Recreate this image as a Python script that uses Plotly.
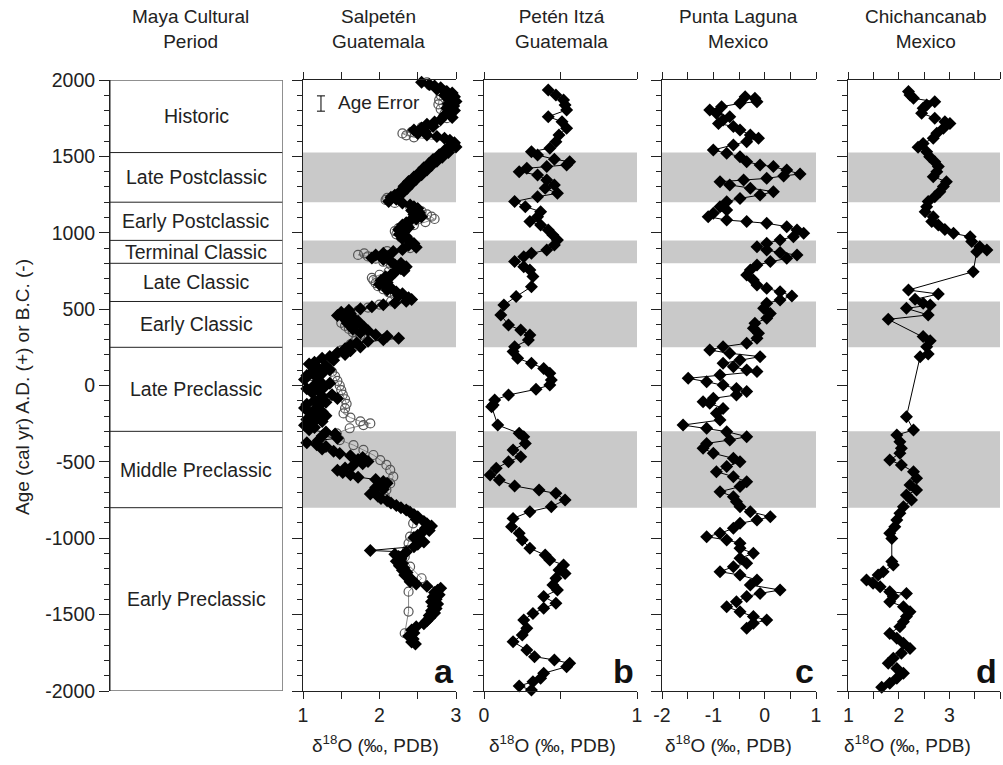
import plotly.graph_objects as go

# ---------------- data ----------------
period_names = ["Historic", "Late Postclassic", "Early Postclassic", "Terminal Classic",
                "Late Classic", "Early Classic", "Late Preclassic", "Middle Preclassic",
                "Early Preclassic"]
period_tops = [2000, 1525, 1200, 950, 800, 550, 250, -300, -800]
period_bottoms = [1525, 1200, 950, 800, 550, 250, -300, -800, -2000]
shaded_periods = ["Late Postclassic", "Terminal Classic", "Early Classic", "Middle Preclassic"]

age_ticks = [2000, 1500, 1000, 500, 0, -500, -1000, -1500, -2000]
age_tick_labels = ["2000", "1500", "1000", "500", "0", "-500", "-1000", "-1500", "-2000"]

site_names = ["Salpetén<br>Guatemala", "Petén Itzá<br>Guatemala",
              "Punta Laguna<br>Mexico", "Chichancanab<br>Mexico"]
panel_letters = ["a", "b", "c", "d"]
x_ranges = [[1, 3], [0, 1], [-2, 1], [1, 4]]
x_tickvals = [[1, 1.5, 2, 2.5, 3], [0, 0.5, 1], [-2, -1.5, -1, -0.5, 0, 0.5, 1],
              [1, 1.5, 2, 2.5, 3, 3.5, 4]]
x_ticktext = [["1", "", "2", "", "3"], ["0", "", "1"], ["-2", "", "-1", "", "0", "", "1"],
              ["1", "", "2", "", "3", "", "4"]]

# Salpetén (a): filled diamonds
salpeten_fill_age = [
    1985, 1970, 1960, 1950, 1940, 1925, 1915, 1900, 1890, 1875, 1860, 1845, 1830, 1815,
    1800, 1785, 1770, 1755, 1740, 1725, 1710, 1695, 1685, 1672, 1662, 1650, 1640, 1630,
    1618, 1605, 1590, 1575, 1562, 1550, 1538, 1525, 1510, 1495, 1480, 1468, 1455, 1440,
    1425, 1410, 1395, 1380, 1365, 1350, 1335, 1320, 1305, 1290, 1275, 1260, 1245, 1232,
    1220, 1205, 1195, 1182, 1170, 1158, 1145, 1132, 1120, 1105, 1090, 1078, 1065, 1050,
    1035, 1020, 1005, 990, 975, 960, 945, 930, 918, 905, 890, 878, 865, 855, 845, 835,
    825, 812, 800, 790, 778, 765, 752, 740, 725, 712, 700, 688, 675, 662, 650, 638, 625,
    612, 600, 588, 575, 563, 552, 540, 528, 515, 503, 492, 480, 470, 458, 445, 432, 420,
    408, 395, 382, 370, 358, 345, 333, 322, 310, 300, 290, 278, 265, 252, 240, 228, 215,
    203, 190, 178, 165, 152, 140, 128, 115, 103, 90, 78, 65, 52, 40, 28, 15, 3, -10, -22,
    -35, -48, -60, -72, -85, -98, -110, -122, -135, -148, -160, -172, -185, -198, -210,
    -222, -235, -248, -260, -275, -290, -305, -318, -330, -345, -360, -375, -388, -400,
    -415, -430, -445, -460, -472, -485, -498, -512, -525, -540, -555, -570, -585, -600,
    -615, -628, -640, -655, -668, -680, -695, -710, -725, -740, -755, -770, -785, -800,
    -815, -830, -845, -860, -875, -890, -905, -920, -935, -950, -965, -980, -995, -1010,
    -1025, -1040, -1055, -1080, -1090, -1105, -1120, -1135, -1150, -1165, -1180, -1195,
    -1210, -1225, -1240, -1255, -1270, -1285, -1300, -1315, -1328, -1340, -1355, -1370,
    -1385, -1400, -1415, -1430, -1445, -1460, -1475, -1490, -1505, -1520, -1540, -1560,
    -1580, -1600, -1620, -1640, -1660, -1680, -1693]
salpeten_fill_d18o = [
    2.55, 2.65, 2.72, 2.80, 2.75, 2.88, 2.95, 2.85, 2.98, 2.92, 3.00, 2.90, 2.97, 2.88,
    2.98, 2.92, 2.85, 2.95, 2.80, 2.72, 2.62, 2.70, 2.55, 2.45, 2.60, 2.50, 2.62, 2.75,
    2.85, 2.92, 2.98, 2.93, 3.00, 2.92, 2.85, 2.90, 2.78, 2.82, 2.70, 2.75, 2.65, 2.68,
    2.58, 2.62, 2.52, 2.55, 2.45, 2.48, 2.38, 2.42, 2.32, 2.36, 2.28, 2.30, 2.20, 2.15,
    2.22, 2.12, 2.30, 2.40, 2.45, 2.50, 2.42, 2.52, 2.45, 2.55, 2.48, 2.40, 2.35, 2.30,
    2.38, 2.25, 2.32, 2.26, 2.35, 2.30, 2.40, 2.45, 2.38, 2.48, 2.30, 2.18, 2.05, 1.95,
    2.10, 1.90, 2.05, 2.15, 2.28, 2.20, 2.35, 2.28, 2.32, 2.20, 2.15, 2.08, 2.12, 2.02,
    2.10, 2.00, 2.08, 2.15, 2.10, 2.22, 2.30, 2.25, 2.38, 2.42, 2.35, 2.20, 2.05, 1.90,
    1.75, 1.60, 1.50, 1.62, 1.45, 1.65, 1.55, 1.72, 1.58, 1.68, 1.80, 1.65, 1.85, 1.75,
    1.95, 2.10, 2.25, 2.05, 1.85, 1.70, 1.62, 1.75, 1.55, 1.62, 1.45, 1.55, 1.35, 1.25,
    1.40, 1.15, 1.08, 1.30, 1.20, 1.35, 1.12, 1.25, 1.05, 1.18, 1.02, 1.22, 1.35, 1.15,
    1.28, 1.05, 1.20, 1.12, 1.38, 1.25, 1.45, 1.15, 1.30, 1.05, 1.20, 1.02, 1.15, 1.25,
    1.10, 1.30, 1.18, 1.05, 1.25, 1.12, 1.02, 1.15, 1.08, 1.30, 1.42, 1.25, 1.45, 1.20,
    1.05, 1.18, 1.30, 1.25, 1.40, 1.48, 1.62, 1.78, 1.72, 1.85, 1.78, 1.65, 1.55, 1.45,
    1.52, 1.62, 1.72, 1.95, 2.05, 2.10, 2.02, 1.95, 2.05, 1.92, 1.88, 1.98, 2.02, 2.10,
    2.15, 2.22, 2.28, 2.35, 2.40, 2.45, 2.50, 2.48, 2.58, 2.62, 2.68, 2.60, 2.65, 2.55,
    2.50, 2.45, 2.52, 2.58, 2.50, 2.45, 1.88, 2.35, 2.20, 2.25, 2.28, 2.22, 2.30, 2.26,
    2.32, 2.30, 2.36, 2.33, 2.38, 2.42, 2.40, 2.48, 2.62, 2.80, 2.76, 2.72, 2.78, 2.70,
    2.74, 2.68, 2.76, 2.70, 2.74, 2.68, 2.72, 2.65, 2.66, 2.62, 2.58, 2.48, 2.42, 2.45,
    2.38, 2.44, 2.42, 2.47]

# Salpetén (a): open circles
salpeten_open_age = [
    1985, 1965, 1930, 1900, 1870, 1840, 1810, 1780, 1750, 1720, 1690, 1660, 1650, 1638,
    1625, 1600, 1585, 1570, 1550, 1520, 1490, 1460, 1430, 1400, 1370, 1340, 1310, 1280,
    1250, 1228, 1215, 1195, 1170, 1140, 1120, 1105, 1090, 1070, 1050, 1030, 1010, 990,
    970, 950, 925, 900, 880, 865, 855, 845, 830, 810, 790, 770, 745, 725, 705, 690, 670,
    650, 630, 610, 590, 570, 550, 530, 510, 490, 470, 450, 430, 410, 390, 370, 350, 330,
    310, 290, 270, 250, 230, 210, 190, 170, 150, 120, 90, 60, 30, 0, -30, -60, -90, -120,
    -150, -183, -210, -235, -248, -259, -280, -313, -357, -390, -422, -455, -488, -520,
    -553, -597, -641, -684, -728, -815, -902, -989, -1033, -1077, -1121, -1186, -1262,
    -1350, -1480, -1622]
salpeten_open_d18o = [
    2.62, 2.66, 2.85, 2.80, 2.78, 2.77, 2.80, 2.85, 2.88, 2.75, 2.55, 2.42, 2.30, 2.35,
    2.45, 2.90, 2.95, 2.99, 2.95, 2.82, 2.75, 2.68, 2.60, 2.55, 2.48, 2.40, 2.35, 2.30,
    2.22, 2.10, 2.08, 2.20, 2.40, 2.55, 2.62, 2.68, 2.72, 2.60, 2.45, 2.25, 2.20, 2.22,
    2.28, 2.35, 2.42, 2.40, 2.10, 1.80, 1.72, 1.85, 1.95, 2.05, 2.15, 2.22, 2.12, 2.00,
    1.90, 1.92, 1.95, 1.98, 2.05, 2.12, 2.20, 2.28, 2.15, 2.00, 1.85, 1.72, 1.62, 1.55,
    1.60, 1.50, 1.55, 1.60, 1.65, 1.75, 1.70, 1.68, 1.62, 1.58, 1.50, 1.45, 1.40, 1.35,
    1.30, 1.32, 1.38, 1.42, 1.45, 1.48, 1.50, 1.52, 1.55, 1.57, 1.55, 1.53, 1.62, 1.75,
    1.88, 1.79, 1.61, 1.44, 1.48, 1.66, 1.79, 1.92, 2.01, 2.09, 2.14, 2.18, 2.14, 2.09,
    2.07, 2.36, 2.44, 2.40, 2.38, 2.36, 2.33, 2.40, 2.55, 2.38, 2.38, 2.33]

# Petén Itzá (b)
peten_age = [1935, 1902, 1869, 1836, 1804, 1760, 1727, 1684, 1640, 1596, 1553, 1531, 1509,
             1481, 1465, 1444, 1433, 1422, 1400, 1378, 1345, 1313, 1291, 1258, 1236, 1204,
             1171, 1138, 1105, 1073, 1051, 1018, 985, 953, 920, 887, 865, 843, 811, 778,
             756, 713, 647, 582, 527, 462, 396, 363, 331, 298, 254, 222, 178, 145, 112, 80,
             36, 3, -25, -62, -95, -128, -139, -259, -313, -335, -379, -422, -466, -499,
             -542, -586, -619, -658, -684, -706, -750, -793, -826, -870, -924, -968, -1011,
             -1066, -1110, -1142, -1175, -1208, -1230, -1262, -1306, -1339, -1382, -1426,
             -1459, -1492, -1535, -1590, -1633, -1677, -1732, -1775, -1797, -1819, -1841,
             -1884, -1917, -1939, -1967, -1994]
peten_d18o = [0.42, 0.47, 0.52, 0.53, 0.54, 0.42, 0.51, 0.54, 0.49, 0.47, 0.43, 0.31, 0.35,
              0.46, 0.56, 0.54, 0.41, 0.28, 0.23, 0.35, 0.41, 0.46, 0.40, 0.48, 0.35, 0.20,
              0.27, 0.37, 0.35, 0.30, 0.37, 0.42, 0.45, 0.48, 0.46, 0.41, 0.31, 0.26, 0.20,
              0.26, 0.30, 0.32, 0.31, 0.21, 0.13, 0.11, 0.16, 0.24, 0.30, 0.29, 0.20, 0.19,
              0.22, 0.31, 0.39, 0.43, 0.44, 0.43, 0.34, 0.16, 0.07, 0.06, 0.05, 0.09, 0.23,
              0.26, 0.27, 0.19, 0.24, 0.16, 0.08, 0.04, 0.10, 0.20, 0.36, 0.47, 0.53, 0.44,
              0.30, 0.19, 0.18, 0.23, 0.25, 0.30, 0.40, 0.43, 0.52, 0.49, 0.53, 0.47, 0.45,
              0.48, 0.39, 0.47, 0.39, 0.32, 0.26, 0.28, 0.25, 0.19, 0.28, 0.33, 0.46, 0.56,
              0.54, 0.39, 0.37, 0.32, 0.23, 0.31]

# Punta Laguna (c)
punta_age = [1891, 1880, 1858, 1847, 1825, 1804, 1782, 1760, 1738, 1716, 1695, 1673, 1640,
             1618, 1596, 1575, 1542, 1520, 1498, 1465, 1444, 1433, 1411, 1385, 1372, 1356,
             1345, 1334, 1313, 1291, 1269, 1247, 1225, 1203, 1171, 1149, 1127, 1105, 1083,
             1073, 1062, 1040, 1018, 996, 974, 953, 931, 909, 887, 870, 854, 833, 811, 789,
             756, 723, 691, 658, 636, 614, 586, 560, 538, 505, 472, 440, 407, 374, 342, 309,
             276, 254, 232, 211, 189, 167, 145, 123, 101, 91, 69, 47, 25, 3, -19, -40, -62,
             -84, -106, -117, -150, -182, -226, -259, -280, -302, -335, -357, -379, -411,
             -444, -477, -499, -531, -564, -597, -630, -662, -695, -728, -761, -793, -826,
             -859, -881, -902, -935, -968, -990, -1011, -1033, -1066, -1099, -1131, -1164,
             -1186, -1219, -1241, -1273, -1306, -1339, -1361, -1382, -1415, -1448, -1481,
             -1513, -1535, -1557, -1590]
punta_d18o = [-0.38, -0.19, -0.15, -0.48, -0.84, -1.07, -0.94, -0.68, -0.81, -0.90, -0.61,
              -0.48, -0.28, -0.12, -0.35, -0.61, -1.00, -0.74, -0.48, -0.35, -0.09, 0.17,
              0.43, 0.69, 0.37, 0.04, -0.41, -0.87, -0.68, -0.28, 0.17, -0.09, -0.48, -0.74,
              -0.87, -0.74, -1.00, -1.10, -0.74, -0.35, 0.04, 0.43, 0.63, 0.76, 0.56, 0.30,
              0.04, -0.15, 0.04, 0.30, 0.63, 0.43, 0.11, -0.15, -0.28, -0.35, -0.22, -0.15,
              0.04, 0.30, 0.53, 0.30, 0.04, -0.02, 0.11, 0.04, -0.19, -0.22, -0.12, -0.15,
              -0.35, -0.81, -1.07, -0.68, -0.09, -0.48, -0.81, -0.61, -0.35, -0.15, -0.87,
              -1.49, -1.13, -0.81, -0.55, -0.35, -0.55, -1.00, -1.20, -1.07, -0.81, -0.94,
              -0.87, -1.59, -1.13, -0.74, -0.35, -0.68, -1.13, -1.20, -1.00, -0.61, -0.48,
              -0.74, -0.94, -0.61, -0.35, -0.48, -0.87, -0.61, -0.55, -0.48, -0.28, 0.11,
              -0.15, -0.48, -0.61, -0.87, -1.13, -0.74, -0.48, -0.48, -0.22, -0.48, -0.35,
              -0.61, -0.87, -0.48, -0.15, -0.28, 0.30, -0.09, -0.35, -0.55, -0.74, -0.48,
              -0.22, 0.04, -0.22, -0.35]

# Chichancanab (d)
chich_age = [1924, 1902, 1880, 1858, 1836, 1815, 1782, 1749, 1727, 1716, 1684, 1651, 1618,
             1585, 1559, 1531, 1498, 1465, 1433, 1400, 1367, 1334, 1302, 1269, 1236, 1204,
             1171, 1138, 1105, 1073, 1051, 1022, 996, 974, 942, 909, 887, 876, 745, 625,
             599, 564, 538, 527, 505, 462, 433, 320, 293, 254, 206, 189, -204, -291, -324,
             -368, -411, -444, -488, -520, -564, -608, -651, -684, -717, -750, -793, -837,
             -881, -924, -968, -1001, -1153, -1175, -1219, -1241, -1273, -1295, -1317,
             -1350, -1361, -1382, -1415, -1448, -1481, -1513, -1546, -1579, -1623, -1655,
             -1688, -1721, -1753, -1786, -1819, -1852, -1884, -1917, -1950, -1976]
chich_d18o = [2.19, 2.22, 2.29, 2.71, 2.55, 2.48, 2.45, 2.71, 2.91, 3.01, 2.88, 2.75, 2.68,
              2.48, 2.38, 2.55, 2.61, 2.71, 2.78, 2.75, 2.68, 2.94, 2.88, 2.81, 2.71, 2.58,
              2.55, 2.52, 2.68, 2.65, 2.78, 2.91, 3.08, 3.41, 3.44, 3.60, 3.74, 3.54, 3.47,
              2.19, 2.78, 2.32, 2.48, 2.62, 2.15, 2.58, 1.79, 2.48, 2.62, 2.55, 2.58, 2.42,
              2.15, 2.29, 1.96, 2.02, 2.05, 2.02, 1.82, 2.05, 2.29, 2.35, 2.22, 2.35, 2.15,
              2.25, 2.09, 2.02, 1.96, 1.92, 1.82, 1.86, 1.86, 1.89, 1.69, 1.59, 1.36, 1.49,
              1.63, 1.82, 2.15, 1.89, 1.82, 2.09, 2.22, 2.15, 2.09, 2.02, 1.82, 1.96, 2.09,
              2.22, 2.05, 1.89, 1.79, 1.96, 2.09, 1.96, 1.82, 1.66]

age_error_years = 50
age_error_position = [1.235, 1846]

# ---------------- layout geometry (pixels) ----------------
W, H = 1003, 765
Y_TOP, Y_BOT = 80, 691
period_x = (110, 282.5)
panel_x = [(303, 456), (484, 637), (662, 816), (848.3, 1000)]
title_centers = [375, 552, 728, 907]
letter_right = [456, 636, 816, 999]
header_centers = [190, 378, 561, 738, 925]

FONT = "Liberation Sans, Arial, Helvetica, sans-serif"
INK = "#222222"
BAND = "#c9c9c9"
FS = 19
FS_PERIOD = 19.5


def px(x):
    return x / W


def py(y):
    return 1 - y / H


ydom = [py(Y_BOT), py(Y_TOP)]

fig = go.Figure()

series = [
    (peten_age, peten_d18o),
    (punta_age, punta_d18o),
    (chich_age, chich_d18o),
]

# panel a
fig.add_trace(go.Scatter(x=salpeten_open_d18o, y=salpeten_open_age, xaxis="x2", yaxis="y2",
                         mode="lines+markers",
                         line=dict(color="#888888", width=1),
                         marker=dict(symbol="circle-open", size=9,
                                     line=dict(color="#555555", width=1.2), color="#555555"),
                         showlegend=False, cliponaxis=False))
fig.add_trace(go.Scatter(x=salpeten_fill_d18o, y=salpeten_fill_age, xaxis="x2", yaxis="y2",
                         mode="lines+markers",
                         line=dict(color="black", width=1),
                         marker=dict(symbol="diamond", size=10, color="black"),
                         showlegend=False, cliponaxis=False))
for i, (ages, vals) in enumerate(series):
    k = i + 3
    fig.add_trace(go.Scatter(x=vals, y=ages, xaxis=f"x{k}", yaxis=f"y{k}",
                             mode="lines+markers",
                             line=dict(color="black", width=1),
                             marker=dict(symbol="diamond", size=10, color="black"),
                             showlegend=False, cliponaxis=False))

# age error bar
fig.add_trace(go.Scatter(x=[age_error_position[0]], y=[age_error_position[1]],
                         xaxis="x2", yaxis="y2", mode="markers",
                         marker=dict(size=1, color="rgba(0,0,0,0)"),
                         error_y=dict(type="constant", value=age_error_years, width=4,
                                      thickness=1, color="black"),
                         showlegend=False))

layout = dict(
    width=W, height=H,
    margin=dict(l=0, r=0, t=0, b=0, pad=0, autoexpand=False),
    paper_bgcolor="white", plot_bgcolor="white",
    font=dict(family=FONT, size=FS, color=INK),
    showlegend=False,
    hovermode=False,
)

minor = dict(tickmode="linear", tick0=0, dtick=100, ticks="outside", ticklen=5,
             tickcolor=INK, tickwidth=1)

layout["xaxis"] = dict(domain=[px(period_x[0]), px(period_x[1])], range=[0, 1],
                       visible=False, anchor="y", automargin=False)
layout["yaxis"] = dict(domain=ydom, range=[-2000, 2000], anchor="x", automargin=False,
                       tickmode="array", tickvals=age_ticks, ticktext=age_tick_labels,
                       ticks="outside", ticklen=10, tickcolor=INK, tickwidth=1,
                       showline=True, linecolor=INK, linewidth=1, showgrid=False,
                       zeroline=False, minor=minor, tickfont=dict(size=FS_PERIOD))

for j in range(4):
    k = j + 2
    x0, x1 = panel_x[j]
    layout[f"xaxis{k}"] = dict(domain=[px(x0), px(x1)], range=x_ranges[j], anchor=f"y{k}",
                               automargin=False,
                               tickmode="array", tickvals=x_tickvals[j], ticktext=x_ticktext[j],
                               ticks="outside", ticklen=7, tickcolor=INK, tickwidth=1,
                               showline=True, mirror="ticks", linecolor=INK, linewidth=1,
                               showgrid=False, zeroline=False, tickfont=dict(size=FS_PERIOD))
    layout[f"yaxis{k}"] = dict(domain=ydom, range=[-2000, 2000], anchor=f"x{k}",
                               automargin=False,
                               tickmode="array", tickvals=age_ticks, showticklabels=False,
                               ticks="outside", ticklen=10, tickcolor=INK, tickwidth=1,
                               showline=True, linecolor=INK, linewidth=1, showgrid=False,
                               zeroline=False, minor=minor)

shapes = []
# period box
shapes.append(dict(type="rect", xref="x", yref="y", x0=0, x1=1, y0=-2000, y1=2000,
                   line=dict(color=INK, width=1), layer="above"))
for b in period_bottoms[:-1]:
    shapes.append(dict(type="line", xref="x", yref="y", x0=0, x1=1, y0=b, y1=b,
                       line=dict(color=INK, width=1)))
# shaded bands
for j in range(4):
    k = j + 2
    for name, top, bot in zip(period_names, period_tops, period_bottoms):
        if name in shaded_periods:
            shapes.append(dict(type="rect", xref=f"x{k} domain", yref=f"y{k}",
                               x0=0, x1=1, y0=bot, y1=top, fillcolor=BAND,
                               line=dict(width=0), layer="below"))
layout["shapes"] = shapes

ann = []
for name, top, bot in zip(period_names, period_tops, period_bottoms):
    ann.append(dict(xref="x", yref="y", x=0.5, y=(top + bot) / 2, text=name,
                    showarrow=False, font=dict(size=FS_PERIOD, color=INK)))

headers = ["Maya Cultural<br>Period"] + site_names
for cx, t in zip(header_centers, headers):
    ann.append(dict(xref="paper", yref="paper", x=px(cx), y=py(29), text=t,
                    showarrow=False, xanchor="center", yanchor="middle",
                    font=dict(size=FS, color=INK)))

for j in range(4):
    ann.append(dict(xref="paper", yref="paper", x=px(title_centers[j]), y=py(744),
                    text="δ<sup>18</sup>O (‰, PDB)", showarrow=False,
                    xanchor="center", yanchor="middle", font=dict(size=FS, color=INK)))
    ann.append(dict(xref="paper", yref="paper", x=px(letter_right[j]), y=py(671),
                    text=f"<b>{panel_letters[j]}</b>", showarrow=False,
                    xanchor="right", yanchor="middle",
                    font=dict(size=34, color="#111111")))

ann.append(dict(xref="paper", yref="paper", x=px(22), y=py(387),
                text="Age (cal yr) A.D. (+) or B.C. (-)", textangle=-90,
                showarrow=False, xanchor="center", yanchor="middle",
                font=dict(size=FS, color=INK)))
ann.append(dict(xref="paper", yref="paper", x=px(336), y=py(103), text="Age Error",
                showarrow=False, xanchor="left", yanchor="middle",
                font=dict(size=FS, color=INK)))
layout["annotations"] = ann

fig.update_layout(**layout)
fig.write_html("out.html",
               config={"displayModeBar": False, "staticPlot": True},
               post_script="document.body.style.margin='0';document.body.style.overflow='hidden';")
